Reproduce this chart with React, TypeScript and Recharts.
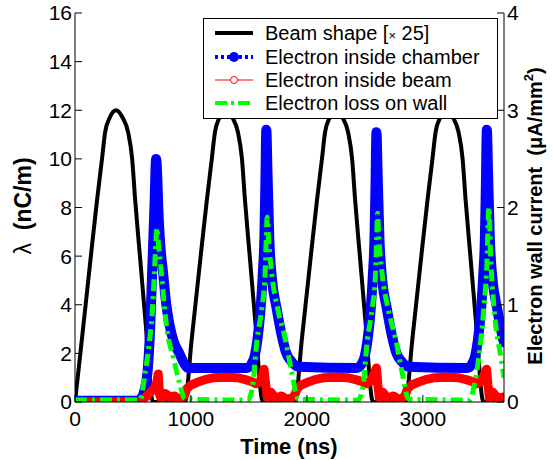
import React from "react";
import { ComposedChart, Line, XAxis, YAxis } from "recharts";

const FONT = '"Liberation Sans", Arial, sans-serif';

// time axis (ns)
const xTicks = [0, 1000, 2000, 3000];
const leftTicks = [0, 2, 4, 6, 8, 10, 12, 14, 16];
const rightTicks = [0, 1, 2, 3, 4];

// beam shape [x 25], nC/m
const beamT = [
  0, 60, 130, 190, 233, 260, 300, 354, 410, 458, 493, 519, 560, 610, 665, 680,
  947, 1007, 1077, 1137, 1180, 1207, 1247, 1301, 1357, 1405, 1440, 1466, 1507, 1557, 1612, 1627,
  1897, 1957, 2027, 2087, 2130, 2157, 2197, 2251, 2307, 2355, 2390, 2416, 2457, 2507, 2562, 2577,
  2850, 2910, 2980, 3040, 3083, 3110, 3150, 3204, 3260, 3308, 3343, 3369, 3410, 3460, 3515, 3530,
  3700,
];
const beamV = [
  0, 2.6, 5.7, 8.3, 10.0, 11.1, 11.7, 12.0, 11.7, 11.1, 10.0, 8.3, 6.0, 3.2, 0.1, 0,
  0, 2.6, 5.7, 8.3, 10.0, 11.1, 11.7, 12.0, 11.7, 11.1, 10.0, 8.3, 6.0, 3.2, 0.1, 0,
  0, 2.6, 5.7, 8.3, 10.0, 11.1, 11.7, 12.0, 11.7, 11.1, 10.0, 8.3, 6.0, 3.2, 0.1, 0,
  0, 2.6, 5.7, 8.3, 10.0, 11.1, 11.7, 12.0, 11.7, 11.1, 10.0, 8.3, 6.0, 3.2, 0.1, 0,
  0,
];

// electron inside chamber, nC/m
const chamberT = [
  0, 530, 570, 600, 625, 648, 665, 685, 700, 710, 718, 735, 760, 785, 812, 850, 900, 940, 975,
  1480, 1520, 1550, 1573, 1600, 1620, 1633, 1642, 1650, 1660, 1676, 1700, 1737, 1780, 1823, 1870, 1925,
  2430, 2470, 2500, 2523, 2550, 2570, 2583, 2592, 2600, 2610, 2626, 2650, 2687, 2730, 2773, 2820, 2875,
  3382, 3422, 3452, 3475, 3502, 3522, 3535, 3544, 3552, 3562, 3578, 3602, 3639, 3682, 3700,
];
const chamberV = [
  0.05, 0.05, 0.15, 0.5, 1.2, 3.0, 5.3, 8.0, 10.0, 9.2, 8.0, 6.5, 5.3, 4.1, 3.25, 2.5, 2.0, 1.6, 1.4,
  1.4, 1.55, 1.9, 2.55, 3.8, 5.3, 6.7, 9.0, 11.2, 9.5, 6.7, 5.0, 3.9, 2.8, 2.0, 1.65, 1.45,
  1.4, 1.55, 1.9, 2.55, 3.8, 5.3, 6.7, 9.0, 11.1, 9.4, 6.7, 5.0, 3.9, 2.8, 2.0, 1.65, 1.45,
  1.4, 1.55, 1.9, 2.55, 3.8, 5.3, 6.7, 9.0, 11.2, 9.5, 6.7, 5.0, 3.9, 2.8, 2.45,
];

// electron inside beam, nC/m
const insideT = [
  0, 560, 620, 680, 705, 718, 730, 745, 780, 820, 860, 900, 930,
  947, 965, 1000, 1050, 1120, 1200, 1300, 1400, 1470, 1520, 1560, 1600, 1630, 1645, 1660, 1690, 1730, 1780, 1830, 1880,
  1897, 1915, 1950, 2000, 2070, 2150, 2250, 2350, 2420, 2470, 2510, 2550, 2600, 2612, 2625, 2655, 2695, 2745, 2795, 2835,
  2850, 2868, 2903, 2953, 3023, 3103, 3203, 3303, 3373, 3423, 3463, 3503, 3550, 3562, 3575, 3605, 3645, 3688, 3700,
];
const insideV = [
  0, 0.02, 0.25, 0.55, 0.8, 1.15, 0.3, 0.1, 0.35, 0.2, 0.25, 0.1, 0.2,
  0.3, 0.55, 0.7, 0.8, 0.92, 1.0, 1.02, 1.0, 0.92, 0.85, 0.75, 0.85, 1.35, 0.7, 0.15, 0.4, 0.15, 0.25, 0.1, 0.2,
  0.3, 0.55, 0.7, 0.8, 0.92, 1.0, 1.02, 1.0, 0.92, 0.85, 0.75, 0.85, 1.4, 0.7, 0.15, 0.4, 0.15, 0.25, 0.1, 0.2,
  0.3, 0.55, 0.7, 0.8, 0.92, 1.0, 1.02, 1.0, 0.92, 0.85, 0.75, 0.85, 1.35, 0.7, 0.15, 0.4, 0.15, 0.2, 0.1,
];

// electron loss on wall, uA/mm2 (right axis)
const lossT = [
  0, 560, 605, 640, 665, 685, 698, 707, 718, 745, 790, 850, 900, 950,
  1490, 1530, 1570, 1610, 1640, 1650, 1658, 1668, 1696, 1750, 1815, 1870, 1925,
  2442, 2482, 2522, 2562, 2592, 2602, 2610, 2620, 2648, 2702, 2767, 2822, 2877,
  3400, 3440, 3483, 3527, 3552, 3570, 3585, 3613, 3673, 3700,
];
const lossV = [
  0.02, 0.02, 0.3, 0.6, 0.9, 1.33, 1.65, 1.79, 1.65, 1.33, 0.77, 0.45, 0.2, 0.03,
  0.02, 0.15, 0.64, 0.95, 1.33, 1.7, 1.9, 1.7, 1.33, 0.95, 0.64, 0.3, 0.03,
  0.02, 0.15, 0.64, 0.95, 1.33, 1.7, 1.94, 1.7, 1.33, 0.95, 0.64, 0.3, 0.03,
  0.02, 0.15, 0.46, 0.98, 1.4, 2.0, 1.5, 0.98, 0.46, 0.25,
];

const pts = (t: number[], v: number[]) => t.map((x, i) => ({ t: x, v: v[i] }));

const beam = pts(beamT, beamV);
const chamber = pts(chamberT, chamberV);
const inside = pts(insideT, insideV);
const loss = pts(lossT, lossV);

const TICK_LEN = 7;
const textProps = { fill: "#000", fontSize: 21 };

// matlab style ticks: short marks pointing into the plot
const BottomTick = ({ x, y, payload }: any) => (
  <g>
    <line x1={x} x2={x} y1={y - 9} y2={y - 9 - TICK_LEN} stroke="#000" />
    <text x={x} y={y} dy="0.71em" textAnchor="middle" {...textProps}>
      {payload.value}
    </text>
  </g>
);
const TopTick = ({ x, y }: any) => (
  <line x1={x} x2={x} y1={y} y2={y + TICK_LEN} stroke="#000" />
);
const LeftTick = ({ x, y, payload }: any) => (
  <g>
    <line x1={x + 3} x2={x + 3 + TICK_LEN} y1={y} y2={y} stroke="#000" />
    <text x={x} y={y} dy="0.355em" textAnchor="end" {...textProps}>
      {payload.value}
    </text>
  </g>
);
const RightTick = ({ x, y, payload }: any) => (
  <g>
    <line x1={x - 3} x2={x - 3 - TICK_LEN} y1={y} y2={y} stroke="#000" />
    <text x={x} y={y} dy="0.355em" textAnchor="start" {...textProps}>
      {payload.value}
    </text>
  </g>
);

const Overlay = () => (
  <svg
    width={555}
    height={460}
    style={{ position: "absolute", left: 0, top: 0, pointerEvents: "none", fontFamily: FONT }}
  >
    {/* axis titles */}
    <text transform="translate(31,206) rotate(-90)" textAnchor="middle" fontSize={23} fill="#000">
      <tspan>λ</tspan>
      <tspan fontWeight="bold">{"\u00A0\u00A0(nC/m)"}</tspan>
    </text>
    <text x={289} y={454} textAnchor="middle" fontSize={22} fontWeight="bold" fill="#000">
      Time (ns)
    </text>
    <text transform="translate(542,216) rotate(-90)" textAnchor="middle" fontSize={20} fontWeight="bold" fill="#000">
      Electron wall current{"\u00A0\u00A0"}(μA/mm
      <tspan fontSize={13} dy={-9}>2</tspan>
      <tspan dy={9}>)</tspan>
    </text>

    {/* legend */}
    <rect x={203.5} y={18.5} width={294} height={100} fill="#fff" stroke="#000" strokeWidth={1} />
    <line x1={215} x2={253} y1={33} y2={33} stroke="#000" strokeWidth={4} />
    <line x1={215} x2={253} y1={57} y2={57} stroke="#0000ff" strokeWidth={4} strokeDasharray="3 3" />
    <circle cx={234} cy={57} r={5} fill="#0000ff" />
    <line x1={215} x2={253} y1={80} y2={80} stroke="#ff0000" strokeWidth={1} />
    <circle cx={234} cy={80} r={3.5} fill="#fff" stroke="#ff0000" strokeWidth={1} />
    <line x1={215} x2={253} y1={103} y2={103} stroke="#00ff00" strokeWidth={4} strokeDasharray="12 4 3 4" />
    <g fontSize={20} fill="#000">
      <text x={265} y={40}>
        Beam shape [<tspan fontSize={13}>×</tspan> 25]
      </text>
      <text x={265} y={64}>Electron inside chamber</text>
      <text x={265} y={87}>Electron inside beam</text>
      <text x={265} y={110}>Electron loss on wall</text>
    </g>
  </svg>
);

export default function App() {
  return (
    <div
      style={{
        position: "absolute",
        left: 0,
        top: 0,
        width: 555,
        height: 460,
        background: "#fff",
        fontFamily: FONT,
      }}
    >
      <ComposedChart width={555} height={460} margin={{ top: 13, right: 0, bottom: 0, left: 0 }}>
        <XAxis
          xAxisId="b"
          dataKey="t"
          type="number"
          domain={[0, 3700]}
          ticks={xTicks}
          allowDataOverflow
          height={58}
          stroke="#000"
          tickLine={false}
          tickSize={0}
          tickMargin={9}
          tick={BottomTick}
        />
        <XAxis
          xAxisId="top"
          orientation="top"
          dataKey="t"
          type="number"
          domain={[0, 3700]}
          ticks={xTicks}
          allowDataOverflow
          height={0}
          stroke="#000"
          tickLine={false}
          tickSize={0}
          tickMargin={0}
          tick={TopTick}
        />
        <YAxis
          yAxisId="l"
          type="number"
          domain={[0, 16]}
          ticks={leftTicks}
          allowDataOverflow
          width={75}
          stroke="#000"
          tickLine={false}
          tickSize={0}
          tickMargin={3}
          tick={LeftTick}
        />
        <YAxis
          yAxisId="r"
          orientation="right"
          type="number"
          domain={[0, 4]}
          ticks={rightTicks}
          allowDataOverflow
          width={51}
          stroke="#000"
          tickLine={false}
          tickSize={0}
          tickMargin={3}
          tick={RightTick}
        />
        <Line
          data={beam}
          xAxisId="b"
          yAxisId="l"
          dataKey="v"
          type="monotone"
          stroke="#000"
          strokeWidth={4}
          dot={false}
          isAnimationActive={false}
        />
        <Line
          data={chamber}
          xAxisId="b"
          yAxisId="l"
          dataKey="v"
          type="monotone"
          stroke="#0000ff"
          strokeWidth={10}
          strokeLinecap="round"
          strokeLinejoin="round"
          dot={false}
          isAnimationActive={false}
        />
        <Line
          data={inside}
          xAxisId="b"
          yAxisId="l"
          dataKey="v"
          type="linear"
          stroke="#ff0000"
          strokeWidth={9}
          strokeLinejoin="round"
          dot={false}
          isAnimationActive={false}
        />
        <Line
          data={loss}
          xAxisId="b"
          yAxisId="r"
          dataKey="v"
          type="monotone"
          stroke="#00ff00"
          strokeWidth={5}
          strokeDasharray="12 5 3 5"
          dot={false}
          isAnimationActive={false}
        />
      </ComposedChart>
      <Overlay />
    </div>
  );
}
